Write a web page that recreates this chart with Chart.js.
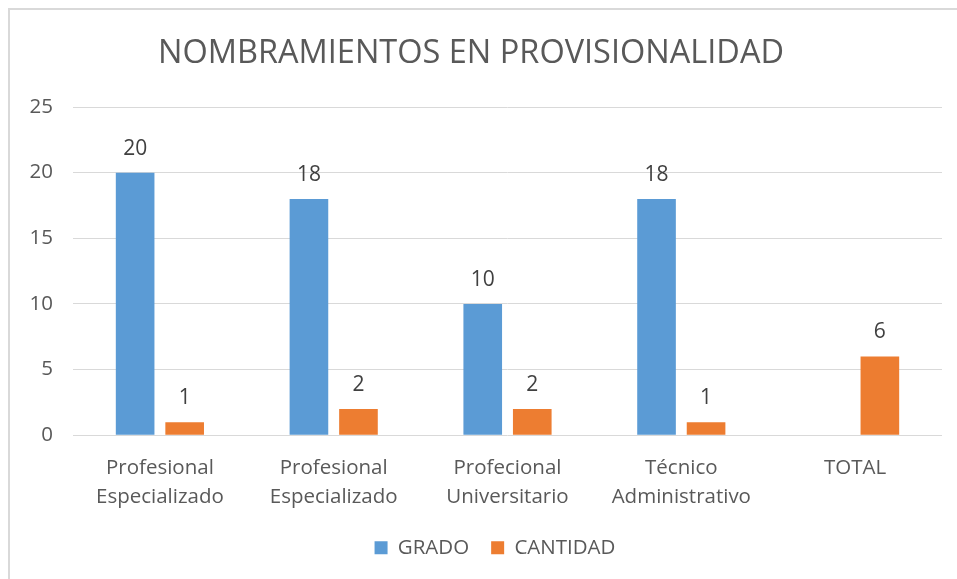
<!DOCTYPE html>
<html>
<head>
<meta charset="utf-8">
<script src="https://cdn.jsdelivr.net/npm/chart.js@4/dist/chart.umd.min.js"></script>
<style>
    html, body { margin: 0; padding: 0; background: #fff; }
    #wrap { position: relative; width: 957px; height: 579px; overflow: hidden; }
    #frame { position: absolute; left: 8px; top: 8px; width: 980px; height: 600px; border: 2px solid #d9d9d9; box-sizing: border-box; }
    #chart { position: absolute; left: 0; top: 0; }
</style>
</head>
<body>
<div id="wrap">
    <div id="frame"></div>
    <canvas id="chart" width="957" height="579"></canvas>
</div>
<script>
const title = 'NOMBRAMIENTOS EN PROVISIONALIDAD';
const categories = [
    ['Profesional', 'Especializado'],
    ['Profesional', 'Especializado'],
    ['Profecional', 'Universitario'],
    ['Técnico', 'Administrativo'],
    'TOTAL'
];
const grado = [20, 18, 10, 18, null];
const cantidad = [1, 2, 2, 1, 6];
const yTicks = [0, 5, 10, 15, 20, 25];

const FONT = "'Open Sans', 'Liberation Sans', sans-serif";
const GREY = '#595959';

// value labels above the bars (no datalabels plugin here)
const barLabels = {
    id: 'barLabels',
    afterDatasetsDraw(chart) {
        const ctx = chart.ctx;
        ctx.save();
        ctx.font = `21px ${FONT}`;
        ctx.fillStyle = '#404040';
        ctx.textAlign = 'center';
        ctx.textBaseline = 'alphabetic';
        chart.data.datasets.forEach((ds, i) => {
            chart.getDatasetMeta(i).data.forEach((bar, j) => {
                if (ds.data[j] == null) return;
                ctx.fillText(String(ds.data[j]), bar.x, bar.y - 18);
            });
        });
        ctx.restore();
    }
};

// excel centres the legend a bit right of the canvas middle
const legendShift = {
    id: 'legendShift',
    afterLayout(chart) {
        if (!chart.legend) return;
        chart.legend.left += 24;
        chart.legend.right += 24;
    }
};

new Chart(document.getElementById('chart'), {
    type: 'bar',
    data: {
        labels: categories,
        datasets: [
            { label: 'GRADO', data: grado, backgroundColor: '#5B9BD5' },
            { label: 'CANTIDAD', data: cantidad, backgroundColor: '#ED7D31' }
        ]
    },
    options: {
        responsive: false,
        animation: false,
        devicePixelRatio: 1,
        categoryPercentage: 0.57,
        barPercentage: 0.78,
        layout: { padding: { left: 0, right: 15, top: 30, bottom: 11 } },
        plugins: {
            title: {
                display: true,
                text: title,
                color: GREY,
                font: { family: FONT, size: 32.5, weight: 'normal' },
                padding: { top: 4, bottom: 34 }
            },
            legend: {
                position: 'bottom',
                labels: {
                    color: GREY,
                    font: { family: FONT, size: 20.5 },
                    boxWidth: 13,
                    boxHeight: 13,
                    padding: 22
                }
            },
            tooltip: { enabled: false }
        },
        scales: {
            x: {
                afterFit(axis) { axis.height -= 6; },
                grid: { display: false },
                border: { display: false },
                ticks: {
                    color: GREY,
                    font: { family: FONT, size: 20.5, lineHeight: 1.42 },
                    maxRotation: 0,
                    autoSkip: false,
                    padding: 10
                }
            },
            y: {
                min: 0,
                max: 25,
                afterBuildTicks(axis) { axis.ticks = yTicks.map((v) => ({ value: v })); },
                afterFit(axis) { axis.width = 73; },
                grid: { color: '#d9d9d9', lineWidth: 1, drawTicks: false },
                border: { display: false },
                ticks: {
                    color: GREY,
                    font: { family: FONT, size: 20.5 },
                    padding: 20
                }
            }
        }
    },
    plugins: [barLabels, legendShift]
});
</script>
</body>
</html>
